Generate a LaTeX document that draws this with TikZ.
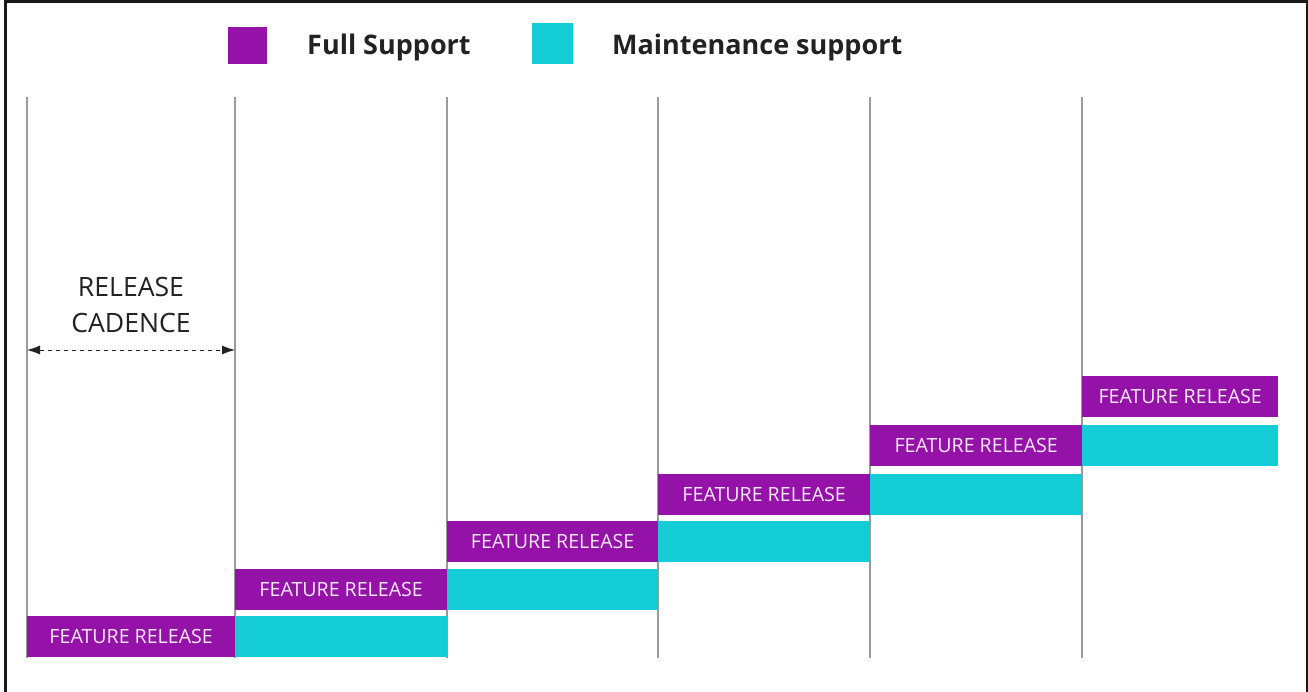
\documentclass[tikz,border=0pt]{standalone}
\usepackage{fontspec}
\setmainfont{Open Sans}
\usetikzlibrary{arrows.meta}
\definecolor{fullpurple}{HTML}{9512A9}
\definecolor{maintcyan}{HTML}{13CCD4}
\definecolor{gridgray}{HTML}{9A9A9A}
\definecolor{inktext}{HTML}{222222}
\definecolor{bartext}{HTML}{F4E8F4}
\tikzset{
  fullbar/.style={fill=fullpurple, draw=none, anchor=north west, inner sep=0pt,
    minimum height=41pt, text=bartext, font=\fontsize{19.6}{21}\selectfont},
  maintbar/.style={fill=maintcyan, draw=none, anchor=north west, inner sep=0pt,
    minimum height=41pt},
  gridline/.style={draw=gridgray, line width=1.3pt},
  legendtext/.style={anchor=base west, inner sep=0pt, text=inktext,
    font=\fontsize{27}{30}\selectfont\bfseries},
  cadence/.style={draw=inktext, line width=0.9pt, dash pattern=on 4pt off 4pt,
    {Latex[length=13pt,width=9pt]}-{Latex[length=13pt,width=9pt]}},
}
\begin{document}
\begin{tikzpicture}[x=1pt,y=-1pt]
\useasboundingbox (0,0) rectangle (1308,692);
\fill[white] (0,0) rectangle (1308,692);

% release boundaries
\foreach \i/\x in {0/27,1/235,2/447,3/658,4/870,5/1082}{
  \coordinate (t\i) at (\x,97);
  \coordinate (b\i) at (\x,658);
  \draw[gridline] (t\i) -- (b\i);
}

% legend
\fill[fullpurple] (228,27) rectangle (267,64);
\node[legendtext] (lfull) at (307,55) {Full Support};
\fill[maintcyan] (532,23) rectangle (573,64);
\node[legendtext] (lmaint) at (612,55) {Maintenance support};

% release cadence
\node[align=center, text=inktext, font=\fontsize{26.6}{36}\selectfont, inner sep=0pt]
  (cad) at (131,305) {RELEASE\\CADENCE};
\coordinate (ca) at (27,350);
\coordinate (cb) at (235,350);
\draw[cadence] (ca) -- (cb);

% staircase of releases
\node[fullbar, minimum width=208pt] (fr0) at (27,616) {FEATURE RELEASE};
\node[maintbar, minimum width=212pt] (ms0) at (235,616) {};
\node[fullbar, minimum width=212pt] (fr1) at (235,568.5) {FEATURE RELEASE};
\node[maintbar, minimum width=211pt] (ms1) at (447,568.5) {};
\node[fullbar, minimum width=211pt] (fr2) at (447,521) {FEATURE RELEASE};
\node[maintbar, minimum width=212pt] (ms2) at (658,521) {};
\node[fullbar, minimum width=212pt] (fr3) at (658,474) {FEATURE RELEASE};
\node[maintbar, minimum width=212pt] (ms3) at (870,474) {};
\node[fullbar, minimum width=212pt] (fr4) at (870,425) {FEATURE RELEASE};
\node[maintbar, minimum width=196pt] (ms4) at (1082,425) {};
\node[fullbar, minimum width=196pt] (fr5) at (1082,376) {FEATURE RELEASE};

% frame
\draw[line width=3pt, draw=black!90] (5,700) -- (5,2) -- (1307,2) -- (1307,700);
\end{tikzpicture}
\end{document}
